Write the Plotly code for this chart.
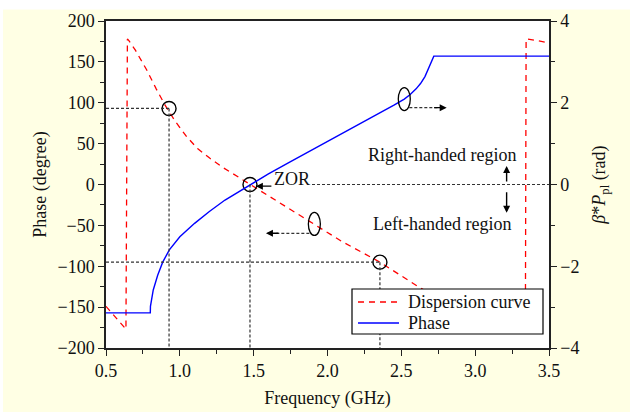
import numpy as np
import plotly.graph_objects as go

# ---------------- data ----------------
# Dispersion curve (degrees, left axis)
disp_freq = [0.5, 0.56, 0.635, 0.645, 0.655, 0.70, 0.776, 0.84, 0.90, 0.97, 1.046, 1.12, 1.204,
             1.29, 1.374, 1.475, 1.6, 1.75, 1.9, 2.1, 2.355, 2.606, 2.8, 3.0, 3.2, 3.34,
             3.345, 3.35, 3.42, 3.5]
disp_deg = [-149, -161, -177, 178, 176, 164, 140, 117, 97, 77, 58.5, 44, 32,
            21, 11.6, 0, -14, -31, -47, -70, -95, -124, -144, -161, -173, -179,
            178, 178, 176, 173]

# Phase (rad, right axis)
phase_freq = [0.5, 0.8, 0.801, 0.81, 0.82, 0.85, 0.884, 0.929, 1.0, 1.1, 1.2, 1.306, 1.4,
              1.475, 1.6, 1.75, 1.94, 2.1, 2.3, 2.45, 2.52, 2.56, 2.6, 2.63, 2.66, 2.683,
              2.70, 2.712, 2.72, 3.5]
phase_rad = [-3.14, -3.14, -2.98, -2.78, -2.58, -2.22, -1.90, -1.60, -1.28, -0.95, -0.66, -0.38, -0.17,
             0.0, 0.26, 0.56, 0.93, 1.25, 1.64, 1.94, 2.09, 2.20, 2.34, 2.47, 2.64, 2.84,
             2.98, 3.08, 3.14, 3.14]

# Marked points on the dispersion curve
mark_freq = [0.927, 1.475, 2.355]
mark_deg = [93, 0, -95]

x_ticks = [0.5, 1.0, 1.5, 2.0, 2.5, 3.0, 3.5]
y_ticks = [-200, -150, -100, -50, 0, 50, 100, 150, 200]
y2_ticks = [-4, -2, 0, 2, 4]
series_names = ["Dispersion curve", "Phase"]

FONT = "Liberation Serif"
RED = "#FF0000"
BLUE = "#0000FF"
DK = "#222222"
TXT = "#111111"

red_line = dict(color=RED, width=1.3, dash="6px,5px")
blue_line = dict(color=BLUE, width=1.4)

fig = go.Figure()
fig.add_trace(go.Scatter(x=disp_freq, y=disp_deg, mode="lines", name=series_names[0],
                         line=red_line, showlegend=False))
fig.add_trace(go.Scatter(x=phase_freq, y=phase_rad, mode="lines", name=series_names[1], yaxis="y2",
                         line=blue_line, showlegend=False))
fig.add_trace(go.Scatter(x=mark_freq, y=mark_deg, mode="markers", showlegend=False,
                         marker=dict(symbol="circle-open", size=14, color="black",
                                     line=dict(width=1.4, color="black"))))

shapes = []
dash_ref = dict(color="#333333", width=1.2, dash="3px,2px")
# reference dashed lines
shapes.append(dict(type="line", xref="x", yref="y", x0=0.5, x1=mark_freq[0], y0=mark_deg[0], y1=mark_deg[0], line=dash_ref))
shapes.append(dict(type="line", xref="x", yref="y", x0=mark_freq[0], x1=mark_freq[0], y0=mark_deg[0], y1=-200, line=dash_ref))
shapes.append(dict(type="line", xref="x", yref="y", x0=mark_freq[1], x1=mark_freq[1], y0=mark_deg[1], y1=-200, line=dash_ref))
shapes.append(dict(type="line", xref="x", yref="y", x0=1.895, x1=3.5, y0=0, y1=0, line=dash_ref))
shapes.append(dict(type="line", xref="x", yref="y", x0=0.5, x1=mark_freq[2], y0=mark_deg[2], y1=mark_deg[2], line=dash_ref))
shapes.append(dict(type="line", xref="x", yref="y", x0=mark_freq[2], x1=mark_freq[2], y0=mark_deg[2], y1=-200, line=dash_ref))

# ellipses marking the curves
ell_blue_f = 2.52
ell_blue_y = float(np.interp(ell_blue_f, phase_freq, phase_rad)) * 50
ell_red_f = 1.911
ell_red_y = float(np.interp(ell_red_f, disp_freq, disp_deg))
for fx, fy in [(ell_blue_f, ell_blue_y), (ell_red_f, ell_red_y)]:
    shapes.append(dict(type="circle", xref="x", yref="y", xsizemode="pixel", ysizemode="pixel",
                       xanchor=fx, yanchor=fy, x0=-6, x1=6, y0=-11.5, y1=11.5,
                       line=dict(color="black", width=1.3)))

# dashed arrow shafts
shapes.append(dict(type="line", xref="x", yref="y", x0=2.554, x1=2.75, y0=94, y1=94, line=dash_ref))
shapes.append(dict(type="line", xref="x", yref="y", x0=1.877, x1=1.64, y0=-59.7, y1=-59.7, line=dash_ref))

# white strip at the top / left of the page
shapes.append(dict(type="rect", xref="paper", yref="paper", x0=-0.3, x1=1.3, y0=(348 - 9.5) / 327, y1=1.2,
                   fillcolor="white", line=dict(width=0), layer="below"))
shapes.append(dict(type="rect", xref="paper", yref="paper", x0=-0.3, x1=-103 / 443, y0=-0.3, y1=1.2,
                   fillcolor="white", line=dict(width=0), layer="below"))


def px(xp):
    return (xp - 106) / 443


def py(yp):
    return (348 - yp) / 327


# custom legend box
shapes.append(dict(type="rect", xref="paper", yref="paper", x0=px(352), x1=px(543), y0=py(334), y1=py(289),
                   fillcolor="white", line=dict(color="black", width=1.2), layer="above"))
leg_rows = [py(302), py(323)]
for yy, ln in zip(leg_rows, [red_line, blue_line]):
    shapes.append(dict(type="line", xref="paper", yref="paper", x0=px(358), x1=px(399), y0=yy, y1=yy,
                       line=ln, layer="above"))

ann = []
tfont = dict(family=FONT, size=18, color=TXT)
for yy, nm in zip(leg_rows, series_names):
    ann.append(dict(x=px(406), y=yy, xref="paper", yref="paper", text=nm, showarrow=False,
                    xanchor="left", yanchor="middle", font=tfont))
ann.append(dict(x=2.773, y=36, xref="x", yref="y", text="Right-handed region", showarrow=False, font=tfont))
ann.append(dict(x=2.773, y=-48.7, xref="x", yref="y", text="Left-handed region", showarrow=False, font=tfont))
ann.append(dict(x=1.76, y=6.5, xref="x", yref="y", text="ZOR", showarrow=False, font=tfont))
arrow_common = dict(xref="x", yref="y", text="", showarrow=True, arrowhead=2, arrowsize=1,
                    arrowwidth=1.4, arrowcolor="black", axref="pixel", ayref="pixel")
ann.append(dict(x=1.515, y=-2, ax=17, ay=0, **arrow_common))
ann.append(dict(x=3.213, y=22.6, ax=0, ay=17, **arrow_common))
ann.append(dict(x=3.213, y=-34.5, ax=0, ay=-22, **arrow_common))
ann.append(dict(x=2.807, y=94, ax=-14, ay=0, **arrow_common))
ann.append(dict(x=1.583, y=-59.7, ax=14, ay=0, **arrow_common))

axis_common = dict(showline=True, linecolor=DK, linewidth=1.5, ticks="outside", ticklen=6, tickwidth=1.3,
                   tickcolor=DK, showgrid=False, zeroline=False, automargin=False,
                   tickfont=dict(family=FONT, size=18, color=TXT))

fig.update_layout(
    width=630, height=412, autosize=False,
    margin=dict(l=106, r=81, t=21, b=64),
    paper_bgcolor="#FFFFE4", plot_bgcolor="white",
    font=dict(family=FONT, size=18, color=TXT),
    showlegend=False,
    xaxis=dict(range=[0.5, 3.5], tickvals=x_ticks, tickformat=".1f", mirror=True,
               minor=dict(dtick=0.25, ticklen=4, ticks="outside", tickcolor=DK),
               title=dict(text="Frequency (GHz)", standoff=11, font=dict(family=FONT, size=18)),
               **axis_common),
    yaxis=dict(range=[-200, 200], tickvals=y_ticks,
               minor=dict(dtick=25, ticklen=4, ticks="outside", tickcolor=DK),
               title=dict(text="Phase (degree)", standoff=6, font=dict(family=FONT, size=18)),
               **axis_common),
    yaxis2=dict(range=[-4, 4], tickvals=y2_ticks, overlaying="y", side="right",
                minor=dict(dtick=1, ticklen=4, ticks="outside", tickcolor=DK),
                title=dict(text="<i>β</i>*<i>P</i><sub>pl</sub> (rad)", standoff=14,
                           font=dict(family=FONT, size=18)),
                **axis_common),
    shapes=shapes, annotations=ann,
)

fig.write_html("out.html")
